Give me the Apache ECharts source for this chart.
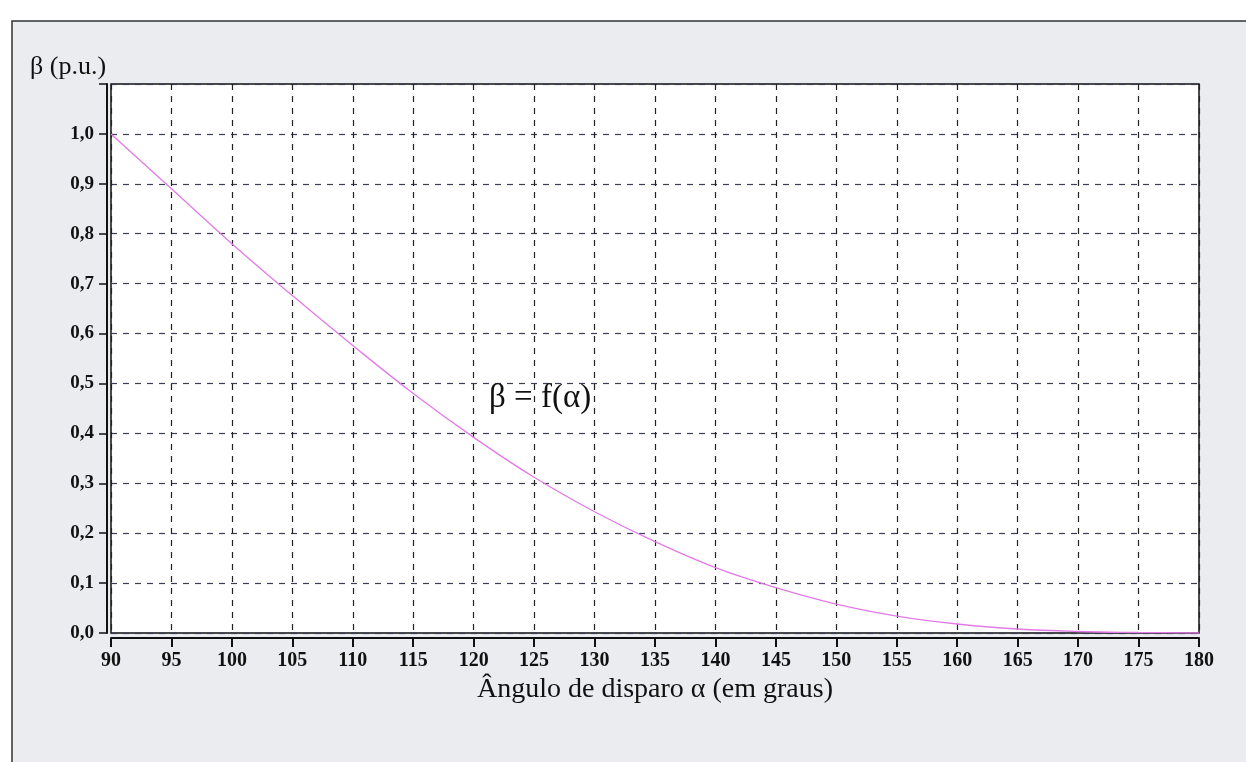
<!DOCTYPE html>
<html>
<head>
<meta charset="utf-8">
<script src="https://cdn.jsdelivr.net/npm/echarts@6/dist/echarts.min.js"></script>
<style>
html,body{margin:0;padding:0;background:#ffffff;}
#chart{width:1246px;height:762px;}
</style>
</head>
<body>
<div id="chart"></div>
<script>
// Firing angle alpha (degrees) and beta (p.u.)
const alpha = [90, 95, 100, 105, 110, 115, 120, 125, 130, 135, 140, 145, 150, 155, 160, 165, 170, 175, 180];
const beta  = [1.0, 0.89, 0.78, 0.676, 0.576, 0.48, 0.392, 0.312, 0.243, 0.183, 0.131, 0.091, 0.058, 0.034, 0.018, 0.008, 0.003, 0.001, 0.0];
const xTicks = [90, 95, 100, 105, 110, 115, 120, 125, 130, 135, 140, 145, 150, 155, 160, 165, 170, 175, 180];
const yTickLabels = ['0,0','0,1','0,2','0,3','0,4','0,5','0,6','0,7','0,8','0,9','1,0',''];
const yAxisTitle = 'β (p.u.)';
const xAxisTitle = 'Ângulo de disparo α (em graus)';
const curveLabel = 'β = f(α)';
const labelAt = [125.5, 0.47];

const chart = echarts.init(document.getElementById('chart'), null, {renderer: 'canvas'});
const serif = '"Liberation Serif", "DejaVu Serif", serif';

chart.setOption({
  animation: false,
  backgroundColor: '#ffffff',
  graphic: [
    {
      type: 'rect', z: -10, silent: true,
      shape: {x: 12, y: 21, width: 1250, height: 750},
      style: {fill: '#eaecef', stroke: '#333', lineWidth: 1.5}
    },
    {
      type: 'text', left: 30, top: 54,
      style: {text: yAxisTitle, font: '26px ' + serif, fill: '#111'}
    }
  ],
  grid: {left: 111, right: 47, top: 84, bottom: 129, show: true, backgroundColor: '#ffffff', borderColor: '#111', borderWidth: 1.5},
  xAxis: {
    type: 'value', min: 90, max: 180, interval: 5,
    offset: 5,
    name: xAxisTitle, nameLocation: 'middle', nameGap: 38,
    nameTextStyle: {fontFamily: serif, fontSize: 28, color: '#111', verticalAlign: 'top'},
    axisLine: {show: true, onZero: false, lineStyle: {color: '#111', width: 2}},
    axisTick: {show: true, length: 9, lineStyle: {color: '#111', width: 2}},
    axisLabel: {fontFamily: serif, fontWeight: 'bold', fontSize: 20, color: '#111', margin: 13,
      formatter: v => xTicks.indexOf(v) >= 0 ? String(v) : ''},
    splitLine: {show: true, lineStyle: {color: '#222', type: [6, 6], width: 1.2}}
  },
  yAxis: {
    type: 'value', min: 0, max: 1.1, interval: 0.1,
    offset: 4,
    axisLine: {show: true, onZero: false, lineStyle: {color: '#111', width: 2}},
    axisTick: {show: true, length: 8, lineStyle: {color: '#111', width: 1.5}},
    axisLabel: {fontFamily: serif, fontWeight: 'bold', fontSize: 19, color: '#111', margin: 13,
      formatter: v => yTickLabels[Math.round(v * 10)] || ''},
    splitLine: {show: true, lineStyle: {color: '#3a3f55', type: [6, 6], width: 1.2}}
  },
  series: [{
    type: 'line',
    data: alpha.map((a, i) => [a, beta[i]]),
    smooth: 0.4,
    symbol: 'none',
    lineStyle: {color: '#e27ae6', width: 1.3},
    markPoint: {
      symbol: 'circle', symbolSize: 0,
      data: [{coord: labelAt}],
      label: {show: true, position: 'inside', formatter: curveLabel,
        fontFamily: serif, fontSize: 33, color: '#111'}
    }
  }]
});
</script>
</body>
</html>
